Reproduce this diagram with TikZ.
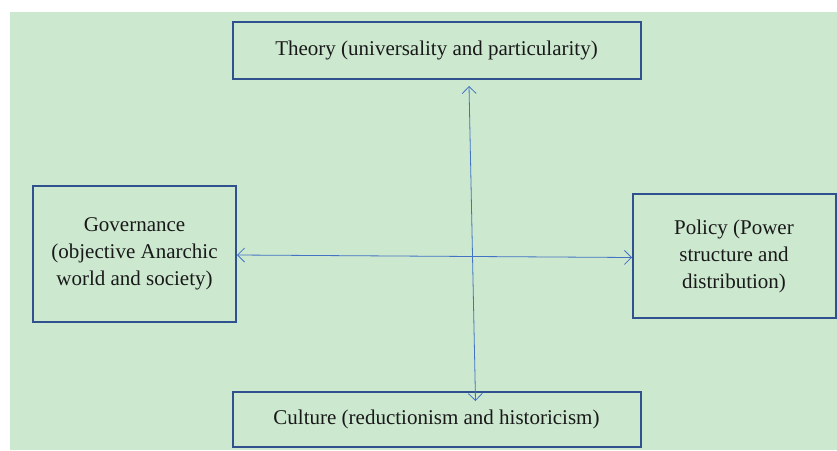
\documentclass[tikz,border=0pt]{standalone}
\usepackage{fontspec}
\setmainfont{Liberation Serif}
\usetikzlibrary{arrows.meta}
\definecolor{bggreen}{RGB}{204,232,207}
\definecolor{boxblue}{RGB}{47,82,143}
\definecolor{arrowblue}{RGB}{68,114,196}
\tikzset{
  box/.style={draw=boxblue, line width=2pt, fill=none, inner sep=0pt, align=center,
    font=\fontsize{21}{27}\selectfont, text=black!90},
  link/.style={draw=arrowblue, line width=0.8pt,
    {Straight Barb[length=7pt,width=14pt]}-{Straight Barb[length=7pt,width=14pt]}}
}
\begin{document}
\begin{tikzpicture}[x=1pt,y=-1pt]
\useasboundingbox (0,0) rectangle (837,450);
\fill[white] (0,0) rectangle (837,450);
\fill[bggreen] (10,12) rectangle (837,450);
\node[box, minimum width=408pt, minimum height=57pt] (theory) at (436.5,50.5) {Theory (universality and particularity)};
\node[box, minimum width=408pt, minimum height=55pt] (culture) at (436.5,419.5) {Culture (reductionism and historicism)};
\node[box, minimum width=203pt, minimum height=136pt] (gov) at (134.5,254) {Governance\\(objective Anarchic\\world and society)};
\node[box, minimum width=203pt, minimum height=124pt] (policy) at (734,256) {Policy (Power\\structure and\\distribution)};
\coordinate (vtop) at (469,86);
\coordinate (vbot) at (475.5,401);
\coordinate (hleft) at (237,255);
\coordinate (hright) at (632,257.5);
\draw[link] (vtop) -- (vbot);
\draw[link] (hleft) -- (hright);
\end{tikzpicture}
\end{document}
